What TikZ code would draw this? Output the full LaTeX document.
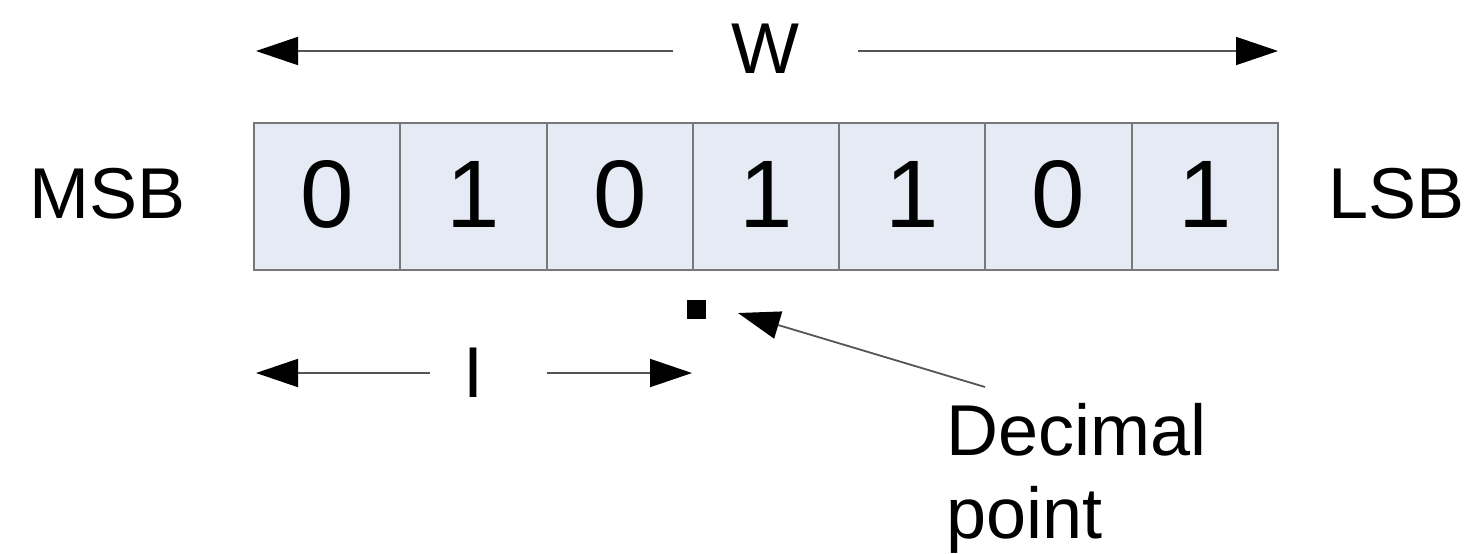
\documentclass[tikz,border=0pt]{standalone}
\usepackage{fontspec}
\setmainfont{Liberation Sans}
\usetikzlibrary{arrows.meta}
\definecolor{cellfill}{RGB}{230,234,245}
\definecolor{cellline}{RGB}{120,120,120}
\definecolor{arrline}{RGB}{85,85,85}
\begin{document}
\begin{tikzpicture}[x=0.5pt,y=-0.5pt,
  bitcell/.style={draw=cellline,line width=1pt,fill=cellfill,
    minimum width=73.14pt,minimum height=73.5pt,inner sep=0pt,outer sep=0pt},
  digit/.style={inner sep=0pt,font=\fontsize{48}{56}\selectfont},
  label/.style={inner sep=0pt,font=\fontsize{36}{41.5}\selectfont},
  dimarrow/.style={draw=arrline,line width=0.9pt,
    -{Triangle[length=21pt,width=14pt,color=black]}}]
  \useasboundingbox[fill=white] (0,0) rectangle (1465,553);

  % the seven bit cells
  \foreach \i/\b in {1/0,2/1,3/0,4/1,5/1,6/0,7/1}{
    \node[bitcell] (c\i) at ({254+146.2857*(\i-0.5)},196.5) {};
    \node[digit,anchor=base] (d\i) at ({254+146.2857*(\i-0.5)},227) {\b};
  }

  % end labels
  \node[label,anchor=base east] (msb) at (186,218) {MSB};
  \node[label,anchor=base west] (lsb) at (1328,218) {LSB};

  % total width W
  \node[label,anchor=base] (w) at (765,73) {W};
  \coordinate (wl) at (256,51);
  \coordinate (wr) at (1278,51);
  \coordinate (wla) at (673,51);
  \coordinate (wra) at (858,51);
  \draw[dimarrow] (wla) -- (wl);
  \draw[dimarrow] (wra) -- (wr);

  % integer part I
  \node[label,anchor=base] (ilab) at (473,397) {I};
  \coordinate (il) at (256,373);
  \coordinate (ir) at (692,373);
  \coordinate (ila) at (430,373);
  \coordinate (ira) at (547,373);
  \draw[dimarrow] (ila) -- (il);
  \draw[dimarrow] (ira) -- (ir);

  % decimal point marker and its callout
  \node[fill=black,minimum size=9.5pt,inner sep=0pt] (dp) at (696,309.5) {};
  \node[label,anchor=base west,align=left] (dptext) at (946,538) {Decimal\\point};
  \coordinate (dptip) at (738,313);
  \coordinate (dpfrom) at (985,387);
  \draw[dimarrow] (dpfrom) -- (dptip);
\end{tikzpicture}
\end{document}
